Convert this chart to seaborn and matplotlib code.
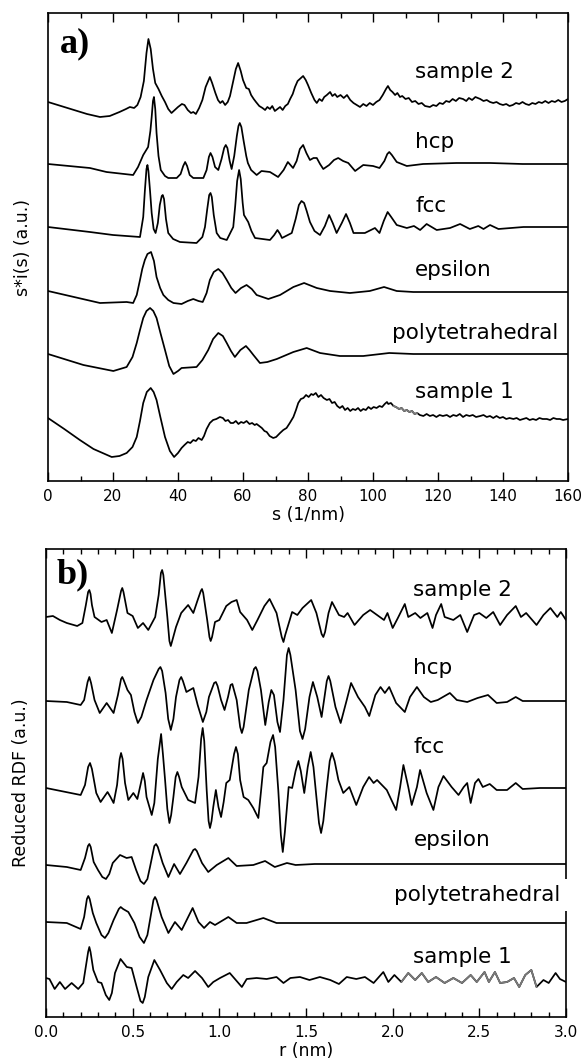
import numpy as np
import matplotlib
matplotlib.use("Agg")
import matplotlib.pyplot as plt
import seaborn as sns
from matplotlib.ticker import MultipleLocator

# ---------------- panel a: s*i(s), s in 1/nm, stacked curves (a.u.) ----------------
s_sample2 = [0, 4, 8, 12, 16, 19, 22, 24, 25.2, 26.5,
             27.5, 28.5, 29.5, 30.3, 30.9, 31.6, 32.3, 33, 34, 35,
             36, 37, 38, 39, 40, 41.2, 42, 43, 44, 44.7,
             45.5, 46.5, 47.5, 48.5, 49.8, 50.5, 51.5, 52.3, 53, 53.7,
             54.5, 55.3, 56, 57, 57.8, 58.5, 59.3, 60, 61, 61.8,
             62.5, 63.3, 64, 65, 66, 66.8, 67.5, 68.3, 69, 69.8,
             70.6, 71.4, 72.2, 73, 73.8, 74.5, 75.3, 76, 76.8, 77.5,
             78.5, 79.3, 80, 81, 82, 82.7, 83.5, 84.3, 85, 85.8,
             86.8, 87.5, 88.3, 89, 90, 91, 92, 93, 94, 95,
             96, 97, 98, 99, 100, 101, 102, 103, 104, 104.6,
             105.3, 106, 106.8, 107.5, 108.3, 109, 110, 111, 112, 113,
             114, 115, 116, 117.5, 118.5, 119.5, 120.5, 121.5, 122.5, 123.5,
             124.5, 125.5, 126.5, 127.7, 128.7, 129.5, 130.5, 131.5, 133, 134,
             135, 136, 137, 138, 139, 140, 141, 142, 143, 144,
             145, 146, 147, 148, 149, 150, 151, 152, 153, 154,
             155, 156, 157, 158, 159, 160]
i_sample2 = [379, 375, 371, 367, 364, 365, 369, 372, 374, 373,
             376, 384, 400, 428, 442, 432, 412, 398, 392, 385,
             379, 372, 368, 371, 374, 377, 376, 371, 368, 369,
             367, 373, 381, 394, 404, 398, 388, 381, 378, 380,
             376, 379, 385, 400, 412, 418, 410, 401, 393, 392,
             386, 382, 379, 375, 373, 371, 374, 372, 375, 370,
             372, 374, 371, 375, 377, 382, 387, 394, 400, 402,
             405, 401, 396, 388, 381, 378, 382, 380, 384, 386,
             389, 385, 387, 384, 386, 383, 386, 381, 378, 376,
             374, 377, 375, 378, 376, 379, 381, 386, 392, 395,
             391, 389, 386, 388, 384, 385, 382, 383, 379, 380,
             377, 378, 375, 374, 376, 375, 378, 377, 380, 379,
             382, 380, 383, 382, 380, 383, 381, 384, 382, 380,
             381, 379, 378, 379, 377, 376, 377, 375, 376, 378,
             377, 379, 377, 376, 378, 377, 379, 378, 380, 378,
             380, 379, 381, 379, 380, 382]

s_hcp = [0, 12.9, 18, 26.2, 27.7, 29.3, 30.8, 31.5, 31.9, 32.3,
         32.6, 33.0, 33.4, 34.0, 34.7, 36, 37, 39.6, 40.8, 41.6,
         42.2, 42.8, 43.6, 44.7, 47.8, 48.8, 49.5, 50, 50.6, 51.4,
         52.4, 53.4, 54.2, 54.7, 55.2, 55.9, 56.5, 57.3, 58.1, 58.6,
         59, 59.5, 60.2, 61, 61.5, 62.5, 64.2, 65.7, 68.3, 70.8,
         72.5, 73.8, 75.4, 76.5, 77.5, 78.5, 79.5, 80.6, 81.7, 82.7,
         83.7, 84.7, 86.5, 88, 89.3, 90.8, 92.4, 94.5, 97, 100,
         102, 103.5, 104.4, 105, 105.8, 107.3, 110.4, 115.4, 125.7, 136,
         146, 160]
i_hcp = [317, 313, 309, 306, 314, 326, 334, 350, 364, 380,
         384, 372, 348, 325, 311, 305, 303, 303, 307, 315,
         319, 315, 306, 303, 303, 311, 324, 328, 324, 314,
         311, 322, 333, 336, 333, 320, 312, 325, 345, 355,
         358, 354, 340, 325, 318, 311, 306, 310, 309, 304,
         311, 319, 313, 320, 332, 336, 328, 321, 323, 323,
         317, 312, 316, 321, 323, 320, 318, 310, 316, 315,
         313, 320, 327, 329, 326, 319, 315, 317, 318, 318,
         317, 317]

s_fcc = [0, 12.9, 20, 28.3, 29.3, 29.8, 30.3, 30.6, 30.9, 31.4,
         31.9, 32.5, 33.1, 33.8, 34.4, 35, 35.3, 35.7, 36.3, 37,
         38.5, 40.6, 45.7, 47.5, 48.3, 49, 49.6, 50, 50.4, 51,
         51.9, 53, 55, 57, 57.6, 58.2, 58.8, 59.3, 59.9, 60.3,
         61.6, 62.6, 63.7, 68.3, 69.6, 70.6, 71.4, 72, 75, 76.2,
         77.2, 78, 78.8, 79.6, 80.6, 82, 83.7, 85.2, 86.5, 87.6,
         88.8, 90.4, 91.7, 92.9, 94, 97.5, 100.6, 102, 103.3, 104.5,
         105.6, 107.3, 110.4, 112.6, 114.5, 116.5, 119.6, 123.7, 126.8, 129.8,
         132.4, 134, 136, 138.6, 146.3, 160]
i_fcc = [254, 249, 246, 244, 264, 290, 312, 316, 310, 290,
         268, 252, 248, 258, 276, 285, 286, 282, 262, 248,
         242, 239, 238, 244, 254, 272, 286, 288, 284, 266,
         248, 243, 241, 254, 275, 300, 311, 302, 278, 266,
         259, 250, 243, 241, 246, 251, 247, 243, 248, 262,
         276, 280, 278, 270, 259, 250, 246, 255, 266, 258,
         248, 258, 267, 258, 248, 248, 253, 248, 260, 269,
         264, 256, 253, 255, 251, 257, 251, 253, 257, 252,
         255, 252, 256, 252, 254, 254]

s_epsilon = [0, 8, 16, 24.2, 26.2, 27.3, 28.3, 29, 29.8, 30.6,
             31.7, 32.6, 33.4, 34.5, 35.5, 37, 38.6, 41.1, 43, 44.7,
             46.3, 47.6, 48.8, 49.8, 51, 52.4, 53.7, 55, 56.4, 57.7,
             59.4, 61.1, 62.7, 64.2, 67.8, 71.4, 75.5, 78.8, 82.7, 86.8,
             92.9, 99, 103.4, 107.3, 112.4, 122.7, 160]
i_epsilon = [190, 184, 178, 179, 178, 186, 201, 212, 221, 227,
             229, 220, 204, 193, 186, 181, 178, 177, 180, 182,
             180, 179, 188, 201, 209, 212, 208, 201, 193, 188,
             193, 196, 192, 186, 182, 186, 194, 198, 193, 190,
             188, 190, 194, 190, 189, 189, 189]

s_poly = [0, 10.9, 20.1, 24.2, 26, 27.3, 28.3, 29.3, 30.3, 31.4,
          32.4, 33.4, 34.6, 36, 37.3, 38.6, 40, 41.1, 45.7, 47.5,
          49.3, 50.8, 52.4, 53.8, 55, 56.3, 57.5, 59.2, 60.9, 62,
          63.2, 65.2, 67.5, 70.4, 75.5, 79.6, 83.7, 89.8, 97, 105,
          112.4, 160]
i_poly = [127, 116, 110, 114, 124, 138, 151, 163, 170, 173,
          170, 163, 148, 131, 115, 107, 110, 113, 114, 121,
          131, 142, 148, 145, 138, 130, 124, 131, 135, 131,
          126, 118, 119, 122, 129, 133, 128, 125, 125, 128,
          127, 127]

s_sample1 = [0, 5, 9.8, 14, 19.6, 22, 24.2, 26, 27.3, 28.3,
             29.3, 30.4, 31.6, 32.5, 33.4, 34.5, 36, 37.5, 38.8, 40,
             41.1, 42, 43, 43.8, 44.7, 45.5, 46.3, 47.3, 48, 48.8,
             49.8, 50.8, 51.8, 52.9, 53.8, 54.6, 55.4, 56.2, 57, 57.8,
             58.6, 59.4, 60.2, 61.1, 62, 62.8, 63.6, 64.2, 65, 65.8,
             66.6, 67.3, 68.2, 69.3, 70.2, 71.4, 72.4, 73.4, 74.4, 75.5,
             76.3, 77, 77.8, 78.6, 79.4, 80.2, 81, 81.6, 82.4, 83.2,
             84, 84.8, 85.8, 86.6, 87.4, 88.2, 89, 89.8, 90.6, 91.4,
             92.2, 93, 93.8, 94.6, 95.4, 96.2, 97, 97.8, 98.6, 99.4,
             100.2, 101.1, 102, 102.8, 103.6, 104.3, 104.7, 105.5, 106.3, 107.1,
             108, 108.8, 109.6, 110.4, 111.2, 112, 112.8, 113.6, 114.4, 115.5,
             116.5, 117.5, 118.5, 119.5, 120.5, 121.5, 122.7, 123.7, 124.7, 125.7,
             126.7, 127.7, 128.7, 129.7, 130.7, 131.7, 133, 134, 135, 136,
             137, 138, 139, 140, 141, 142, 143.2, 144.2, 145.2, 146.2,
             147.2, 148.2, 149.2, 150.2, 151.2, 152.2, 153.5, 154.5, 155.5, 156.5,
             157.5, 158.5, 160]
i_sample1 = [63, 52, 41, 32, 24, 25, 28, 34, 44, 60,
             78, 89, 93, 89, 81, 65, 44, 30, 24, 28,
             33, 36, 39, 38, 41, 40, 43, 41, 45, 52,
             58, 61, 62, 64, 63, 60, 61, 58, 58, 60,
             57, 59, 58, 60, 57, 58, 56, 57, 55, 53,
             50, 49, 45, 43, 44, 48, 51, 53, 58, 64,
             71, 78, 82, 83, 86, 84, 87, 86, 88, 84,
             86, 83, 81, 82, 78, 79, 75, 73, 75, 71,
             73, 70, 72, 71, 73, 70, 72, 71, 74, 72,
             74, 73, 75, 74, 77, 79, 77, 78, 75, 74,
             72, 73, 70, 71, 69, 70, 67, 68, 66, 65,
             67, 65, 66, 64, 66, 65, 66, 64, 66, 65,
             67, 64, 66, 65, 66, 64, 65, 66, 64, 65,
             63, 65, 63, 64, 62, 63, 62, 63, 61, 62,
             63, 61, 62, 61, 63, 62, 62, 61, 63, 62,
             62, 61, 62]

# ---------------- panel b: reduced RDF, r in nm, stacked curves (a.u.) ----------------
r_sample2 = [0, 0.04, 0.08, 0.12, 0.18, 0.21, 0.23, 0.243, 0.25, 0.257,
             0.265, 0.28, 0.32, 0.35, 0.38, 0.41, 0.433, 0.44, 0.447, 0.47,
             0.50, 0.53, 0.56, 0.59, 0.63, 0.65, 0.663, 0.67, 0.677, 0.69,
             0.70, 0.712, 0.72, 0.728, 0.75, 0.78, 0.82, 0.85, 0.875, 0.893,
             0.90, 0.907, 0.93, 0.943, 0.95, 0.958, 0.975, 1.0, 1.04, 1.07,
             1.10, 1.12, 1.16, 1.19, 1.22, 1.26, 1.29, 1.33, 1.36, 1.37,
             1.38, 1.42, 1.45, 1.48, 1.53, 1.56, 1.59, 1.60, 1.61, 1.63,
             1.65, 1.69, 1.72, 1.74, 1.78, 1.83, 1.87, 1.91, 1.95, 1.97,
             2.00, 2.03, 2.07, 2.09, 2.13, 2.16, 2.20, 2.23, 2.25, 2.28,
             2.30, 2.35, 2.39, 2.43, 2.47, 2.50, 2.54, 2.58, 2.62, 2.66,
             2.71, 2.74, 2.77, 2.83, 2.87, 2.91, 2.95, 2.97, 3.0]
g_sample2 = [400, 401, 397, 394, 391, 394, 412, 425, 427, 423,
             412, 400, 395, 397, 384, 407, 426, 429, 425, 404,
             401, 389, 394, 387, 400, 422, 444, 447, 442, 418,
             400, 376, 371, 376, 390, 404, 412, 404, 417, 426,
             428, 424, 397, 380, 376, 380, 395, 397, 411, 415,
             417, 405, 397, 387, 397, 411, 418, 404, 380, 375,
             382, 405, 402, 409, 417, 404, 383, 380, 385, 404,
             415, 402, 400, 404, 392, 402, 407, 402, 397, 404,
             389, 399, 413, 400, 404, 399, 404, 389, 402, 413,
             400, 397, 402, 385, 402, 404, 399, 405, 392, 402,
             411, 400, 404, 392, 402, 409, 400, 405, 397]

r_hcp = [0, 0.12, 0.20, 0.22, 0.24, 0.25, 0.26, 0.28, 0.31, 0.33,
         0.35, 0.37, 0.39, 0.415, 0.433, 0.44, 0.448, 0.47, 0.49, 0.51,
         0.53, 0.55, 0.58, 0.62, 0.65, 0.66, 0.67, 0.69, 0.705, 0.72,
         0.735, 0.75, 0.77, 0.78, 0.79, 0.81, 0.85, 0.875, 0.905, 0.925,
         0.94, 0.97, 0.98, 0.99, 1.01, 1.03, 1.05, 1.065, 1.075, 1.10,
         1.12, 1.13, 1.14, 1.17, 1.20, 1.21, 1.22, 1.24, 1.265, 1.285,
         1.30, 1.315, 1.335, 1.35, 1.37, 1.39, 1.40, 1.41, 1.44, 1.465,
         1.48, 1.495, 1.52, 1.54, 1.565, 1.59, 1.62, 1.63, 1.64, 1.67,
         1.70, 1.735, 1.76, 1.80, 1.84, 1.865, 1.90, 1.93, 1.955, 1.98,
         2.02, 2.07, 2.10, 2.14, 2.18, 2.22, 2.26, 2.33, 2.37, 2.43,
         2.49, 2.55, 2.60, 2.66, 2.71, 2.75, 3.0]
g_hcp = [316, 315, 312, 317, 335, 340, 334, 317, 304, 309,
         314, 309, 304, 322, 338, 340, 337, 327, 322, 305,
         294, 300, 317, 337, 348, 350, 346, 324, 298, 287,
         298, 320, 337, 340, 336, 325, 329, 312, 295, 305,
         320, 334, 335, 331, 317, 307, 320, 332, 333, 317,
         290, 284, 290, 327, 348, 350, 346, 327, 292, 315,
         327, 322, 295, 285, 317, 362, 369, 362, 327, 286,
         278, 288, 320, 335, 320, 300, 336, 341, 336, 310,
         294, 317, 334, 320, 310, 301, 322, 330, 324, 330,
         314, 305, 320, 330, 320, 315, 317, 324, 317, 315,
         319, 322, 314, 315, 320, 316, 316]

r_fcc = [0, 0.20, 0.225, 0.243, 0.254, 0.265, 0.29, 0.315, 0.335, 0.355,
         0.372, 0.39, 0.41, 0.425, 0.433, 0.442, 0.456, 0.475, 0.504, 0.527,
         0.545, 0.56, 0.57, 0.58, 0.61, 0.625, 0.645, 0.664, 0.675, 0.687,
         0.70, 0.712, 0.722, 0.735, 0.748, 0.758, 0.768, 0.783, 0.82, 0.86,
         0.88, 0.895, 0.904, 0.913, 0.927, 0.938, 0.946, 0.955, 0.965, 0.98,
         0.995, 1.01, 1.025, 1.04, 1.06, 1.085, 1.096, 1.107, 1.12, 1.14,
         1.167, 1.196, 1.225, 1.24, 1.254, 1.273, 1.295, 1.31, 1.322, 1.34,
         1.355, 1.366, 1.378, 1.40, 1.42, 1.44, 1.456, 1.47, 1.49, 1.51,
         1.527, 1.543, 1.56, 1.575, 1.587, 1.60, 1.62, 1.637, 1.65, 1.665,
         1.687, 1.715, 1.75, 1.79, 1.83, 1.864, 1.89, 1.91, 1.966, 2.02,
         2.043, 2.062, 2.09, 2.11, 2.14, 2.158, 2.196, 2.235, 2.264, 2.293,
         2.34, 2.38, 2.41, 2.43, 2.45, 2.475, 2.495, 2.52, 2.56, 2.60,
         2.66, 2.71, 2.75, 2.85, 3.0]
g_fcc = [229, 222, 232, 250, 254, 248, 224, 215, 220, 225,
         220, 214, 232, 258, 264, 258, 234, 217, 224, 218,
         232, 244, 236, 220, 202, 214, 258, 283, 262, 237,
         208, 194, 202, 220, 240, 245, 240, 230, 217, 214,
         240, 278, 289, 276, 227, 196, 189, 196, 210, 227,
         210, 200, 215, 234, 237, 263, 270, 263, 237, 220,
         217, 209, 199, 225, 250, 254, 275, 282, 270, 227,
         182, 165, 185, 230, 229, 246, 256, 246, 224, 250,
         265, 250, 220, 194, 184, 196, 230, 256, 264, 256,
         237, 224, 230, 212, 230, 240, 234, 237, 227, 207,
         230, 252, 230, 212, 230, 247, 224, 207, 230, 241,
         230, 222, 230, 234, 214, 234, 238, 230, 233, 227,
         227, 234, 228, 229, 229]

r_epsilon = [0, 0.12, 0.20, 0.225, 0.242, 0.25, 0.258, 0.275, 0.30, 0.325,
             0.346, 0.365, 0.385, 0.427, 0.465, 0.494, 0.52, 0.545, 0.565, 0.585,
             0.60, 0.625, 0.635, 0.645, 0.673, 0.706, 0.739, 0.773, 0.81, 0.85,
             0.86, 0.87, 0.90, 0.936, 0.985, 1.052, 1.10, 1.196, 1.264, 1.32,
             1.39, 1.44, 1.55, 3.0]
g_epsilon = [152, 150, 147, 159, 171, 173, 170, 155, 147, 140,
             138, 143, 154, 162, 159, 160, 147, 136, 133, 138,
             150, 171, 173, 170, 154, 140, 153, 143, 154, 167,
             168, 166, 154, 145, 152, 159, 151, 152, 156, 150,
             154, 152, 153, 153]

r_poly = [0, 0.12, 0.20, 0.22, 0.236, 0.244, 0.252, 0.27, 0.29, 0.32,
          0.34, 0.36, 0.39, 0.42, 0.431, 0.445, 0.475, 0.51, 0.54, 0.565,
          0.585, 0.60, 0.62, 0.629, 0.638, 0.667, 0.706, 0.744, 0.783, 0.846,
          0.88, 0.912, 0.946, 0.975, 1.052, 1.10, 1.157, 1.254, 1.33, 1.465,
          3.0]
g_poly = [95, 94, 88, 100, 118, 121, 118, 104, 94, 82,
          79, 84, 97, 108, 110, 108, 105, 94, 80, 74,
          82, 97, 117, 120, 117, 100, 84, 95, 87, 109,
          95, 89, 95, 92, 100, 94, 94, 99, 94, 94,
          94]

r_sample1 = [0, 0.02, 0.05, 0.08, 0.11, 0.148, 0.186, 0.215, 0.243, 0.25,
             0.257, 0.273, 0.30, 0.32, 0.345, 0.365, 0.38, 0.398, 0.43, 0.466,
             0.494, 0.523, 0.545, 0.558, 0.57, 0.59, 0.625, 0.658, 0.697, 0.725,
             0.754, 0.792, 0.82, 0.86, 0.90, 0.936, 0.965, 1.004, 1.06, 1.11,
             1.13, 1.158, 1.215, 1.273, 1.33, 1.37, 1.41, 1.465, 1.52, 1.58,
             1.64, 1.69, 1.735, 1.79, 1.84, 1.89, 1.946, 1.975, 2.01, 2.05,
             2.09, 2.13, 2.168, 2.205, 2.25, 2.30, 2.35, 2.40, 2.45, 2.485,
             2.53, 2.555, 2.59, 2.62, 2.66, 2.70, 2.73, 2.765, 2.80, 2.83,
             2.87, 2.90, 2.94, 2.965, 3.0]
g_sample1 = [39, 38, 28, 35, 28, 34, 28, 34, 65, 70,
             65, 47, 35, 34, 22, 17, 24, 44, 58, 50,
             49, 30, 16, 14, 20, 40, 57, 47, 34, 28,
             35, 42, 39, 46, 39, 30, 35, 39, 44, 34,
             30, 38, 39, 38, 40, 34, 39, 40, 37, 40,
             37, 33, 40, 38, 40, 34, 45, 35, 42, 35,
             44, 37, 44, 35, 40, 34, 39, 34, 42, 35,
             45, 35, 45, 34, 35, 39, 30, 42, 47, 30,
             37, 34, 44, 38, 35]

names = ["sample 2", "hcp", "fcc", "epsilon", "polytetrahedral", "sample 1"]

# label placement (data coords of each panel)
label_x_a = [113, 113, 113, 113, 106, 113]
label_y_a = [403, 333, 269, 205, 142, 83]
label_x_b = [2.12, 2.12, 2.12, 2.12, 2.01, 2.12]
label_y_b = [421, 343, 264, 171, 116, 54]

sns.set_style("ticks")
plt.rcParams["font.family"] = ["DejaVu Sans"]
plt.rcParams.update({
    "text.color": "black",
    "axes.labelcolor": "black",
    "xtick.color": "black",
    "axes.edgecolor": "black",
    "axes.linewidth": 1.2,
    "lines.solid_joinstyle": "round",
})

LINE = dict(color="black", linewidth=1.25, estimator=None, sort=False, legend=False)


def draw_panel(ax, curves, lab_x, lab_y, xlim, major, minor, xlabel, ylabel, tag, tag_xy, gray):
    for x, y in curves:
        sns.lineplot(x=x, y=y, ax=ax, **LINE)
    # greyish stretches in the scanned traces
    for idx, lo, hi in gray:
        x = np.asarray(curves[idx][0])
        y = np.asarray(curves[idx][1])
        m = (x >= lo) & (x <= hi)
        ax.plot(x[m], y[m], color="#7a7a7a", lw=1.25, zorder=3)
    for name, tx, ty in zip(names, lab_x, lab_y):
        kw = {}
        if name == "polytetrahedral":
            kw["bbox"] = dict(boxstyle="square,pad=0.3", fc="white", ec="none")
        ax.text(tx, ty, name, fontsize=15.5, va="baseline", ha="left",
                color="black", zorder=5, clip_on=False, **kw)
    ax.text(tag_xy[0], tag_xy[1], tag, transform=ax.transAxes, fontsize=26,
            fontweight="bold", family="Liberation Serif", va="baseline", ha="left",
            color="black")
    ax.set_xlim(*xlim)
    ax.set_ylim(0, 468)
    ax.xaxis.set_major_locator(MultipleLocator(major))
    ax.xaxis.set_minor_locator(MultipleLocator(minor))
    ax.set_yticks([])
    ax.tick_params(axis="x", which="both", direction="in", top=True, bottom=True,
                   width=1.0, labelsize=11, pad=6, colors="black")
    ax.tick_params(axis="x", which="major", length=6.5)
    ax.tick_params(axis="x", which="minor", length=3.5)
    ax.tick_params(axis="y", left=False, right=False)
    for sp in ax.spines.values():
        sp.set_visible(True)
        sp.set_color("black")
        sp.set_linewidth(1.2)
    ax.set_xlabel(xlabel, fontsize=12.5, labelpad=1)
    ax.set_ylabel(ylabel, fontsize=12.5)
    ax.yaxis.set_label_coords(-0.03, 0.5)


fig = plt.figure(figsize=(5.84, 10.59), dpi=100)
ax_a = fig.add_axes([48 / 584, 1 - 481 / 1059, 520 / 584, 468 / 1059])
ax_b = fig.add_axes([46 / 584, 1 - 1017 / 1059, 520 / 584, 468 / 1059])

curves_a = [(s_sample2, i_sample2), (s_hcp, i_hcp), (s_fcc, i_fcc),
            (s_epsilon, i_epsilon), (s_poly, i_poly), (s_sample1, i_sample1)]
curves_b = [(r_sample2, g_sample2), (r_hcp, g_hcp), (r_fcc, g_fcc),
            (r_epsilon, g_epsilon), (r_poly, g_poly), (r_sample1, g_sample1)]

draw_panel(ax_a, curves_a, label_x_a, label_y_a, (0, 160), 20, 10,
           "s (1/nm)", "s*i(s) (a.u.)", "a)", (0.023, 0.917), [(5, 106, 114)])
draw_panel(ax_b, curves_b, label_x_b, label_y_b, (0, 3.0), 0.5, 0.1,
           "r (nm)", "Reduced RDF (a.u.)", "b)", (0.021, 0.927), [(5, 2.05, 2.85)])

fig.savefig("out.png", dpi=100)
